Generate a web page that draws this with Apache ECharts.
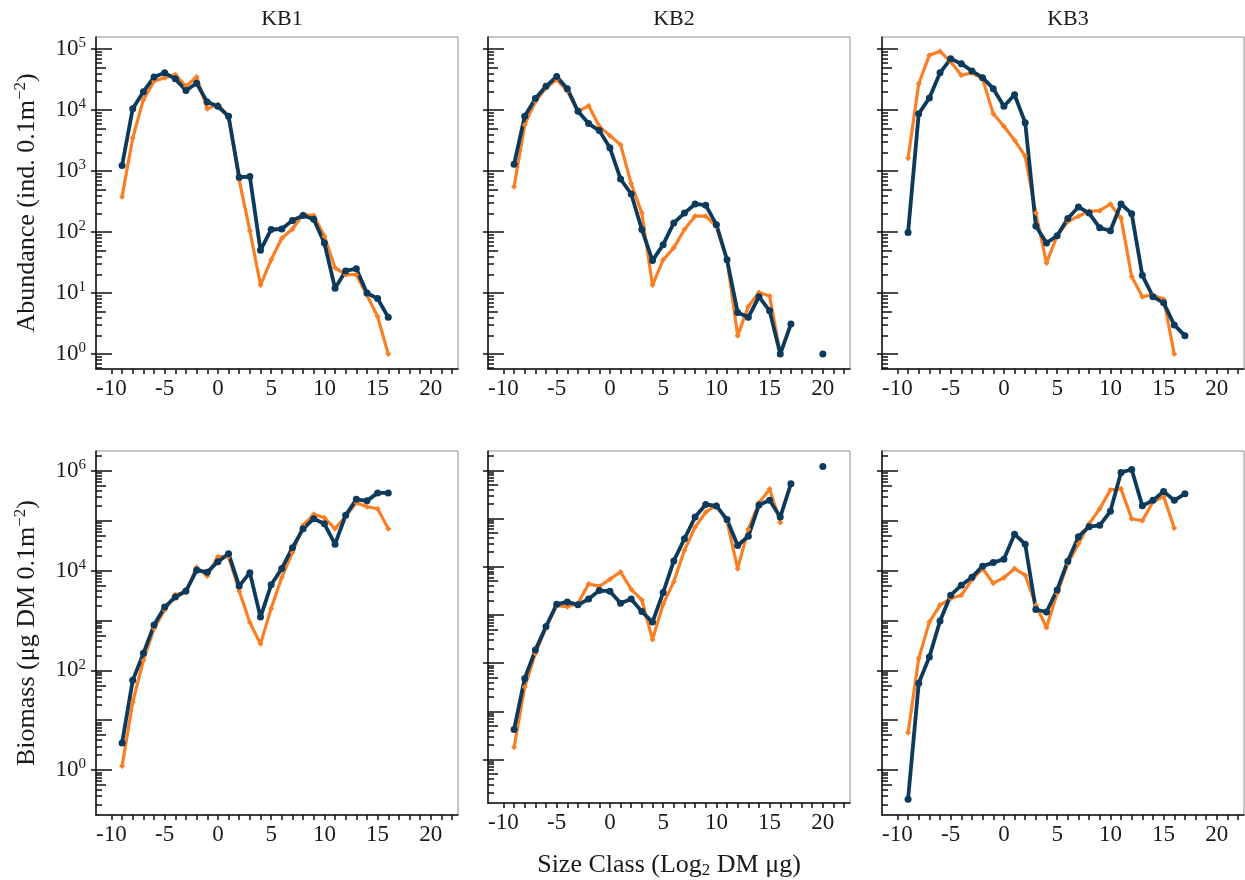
<!DOCTYPE html>
<html>
<head>
<meta charset="utf-8">
<script src="https://cdn.jsdelivr.net/npm/echarts@6/dist/echarts.min.js"></script>
<style>
  html, body { margin: 0; padding: 0; background: #fff; }
  #main { width: 1245px; height: 880px; }
</style>
</head>
<body>
<div id="main"></div>
<script>
// size classes start at -9 (log2 DM ug); null = no sample
var firstClass = -9;
var sites = ['KB1', 'KB2', 'KB3'];

// abundance (ind. 0.1m-2), orange = series 1, navy = series 2
var abundKB1_1 = [380, 3470, 14800, 29500, 33900, 38000, 24500, 34700, 10500, 12300, 7800, 710, 105, 13.5, 35, 79, 112, 195, 186, 85, 26, 20, 20, 9.3, 4.1, 1];
var abundKB1_2 = [1230, 10500, 20000, 34700, 40700, 32400, 20900, 27500, 13500, 11500, 7900, 790, 810, 50, 110, 112, 155, 186, 162, 66, 12, 23, 25, 10, 8.1, 4];
var abundKB2_1 = [550, 5750, 13800, 22900, 31600, 20400, 9500, 11700, 5400, 3800, 2700, 620, 204, 13.5, 35, 55, 110, 182, 182, 123, 35, 2, 6, 10.2, 8.9, 1];
var abundKB2_2 = [1290, 7900, 15500, 24500, 35500, 22400, 9500, 6000, 4600, 2400, 740, 420, 110, 34, 62, 141, 204, 288, 275, 132, 35, 4.8, 4, 8.7, 5.1, 1, 3.1, null, null, 1];
var abundKB3_1 = [1620, 26900, 79400, 91200, 61700, 37200, 40700, 32400, 8700, 5400, 3200, 1740, 204, 31, 87, 148, 182, 219, 224, 288, 170, 18.6, 8.7, 9.3, 7.9, 1];
var abundKB3_2 = [98, 8700, 15800, 40700, 69000, 57500, 43600, 33900, 22400, 11500, 17800, 6200, 126, 66, 87, 166, 257, 204, 117, 105, 288, 200, 19.5, 8.7, 6.9, 3, 2];

// biomass (ug DM 0.1m-2)
var bioKB1_1 = [1.2, 23, 158, 690, 1620, 3300, 3700, 11700, 7800, 19100, 19100, 3900, 910, 340, 1740, 7400, 22900, 81000, 135000, 115000, 69000, 123000, 229000, 191000, 174000, 69000];
var bioKB1_2 = [3.5, 63, 219, 810, 1860, 2950, 3900, 10200, 9300, 15100, 21900, 4900, 9100, 1170, 5200, 11000, 28800, 69000, 110000, 87000, 33900, 129000, 269000, 251000, 363000, 363000];
var bioKB2_1 = [1.8, 32, 158, 550, 1550, 1480, 1740, 4400, 3900, 5500, 7800, 3400, 2040, 310, 1660, 4900, 21900, 66000, 135000, 191000, 87000, 9100, 60000, 209000, 407000, 83000];
var bioKB2_2 = [4.2, 48, 186, 575, 1660, 1860, 1620, 2140, 3200, 3100, 1740, 2140, 1170, 710, 2900, 13200, 38000, 107000, 195000, 182000, 95000, 27500, 42700, 191000, 240000, 107000, 525000, null, null, 1200000];
var bioKB3_1 = [5.6, 174, 930, 2040, 2750, 3200, 6600, 11000, 5600, 7200, 11000, 8100, 2040, 720, 3500, 13800, 34700, 87000, 174000, 417000, 437000, 110000, 100000, 240000, 309000, 72000];
var bioKB3_2 = [0.26, 55, 186, 980, 3200, 5100, 7400, 12300, 14500, 17000, 54000, 33900, 1660, 1480, 4100, 15500, 47900, 76000, 81000, 155000, 933000, 1070000, 200000, 257000, 389000, 257000, 347000];

var xTickLabels = [-10, -5, 0, 5, 10, 15, 20];
var abundDecades = [0, 1, 2, 3, 4, 5];
var bioDecades = [0, 1, 2, 3, 4, 5, 6];
var bioLabelDecades = [0, 2, 4, 6];

var orange = '#fa7f24';
var navy = '#0c3a5c';
var font = 'Liberation Serif';
var textColor = '#1a1a1a';

var rows = [
  { series: [[abundKB1_1, abundKB1_2], [abundKB2_1, abundKB2_2], [abundKB3_1, abundKB3_2]],
    top: 37, height: 332, min: -0.246, max: 5.197, decades: abundDecades, labels: abundDecades,
    name: '{b|Abundance (ind. 0.1m}{s|−2}{b|)}' },
  { series: [[bioKB1_1, bioKB1_2], [bioKB2_1, bioKB2_2], [bioKB3_1, bioKB3_2]],
    top: 451, height: 364, min: -0.902, max: 6.4, decades: bioDecades, labels: bioLabelDecades,
    name: '{b|Biomass (μg DM 0.1m}{s|−2}{b|)}' }
];
var lefts = [96, 488, 882];
var panelW = 362;

function toPairs(arr) {
  var out = [];
  for (var i = 0; i < arr.length; i++) {
    out.push([firstClass + i, arr[i] == null ? null : Math.log10(arr[i])]);
  }
  return out;
}

function minorTicks(min, max, which) {
  var vals = [];
  for (var n = -2; n <= 7; n++) {
    for (var k = 2; k <= 9; k++) {
      if ((which === 'five') !== (k === 5)) continue;
      var v = n + Math.log10(k);
      if (v >= min && v <= max) vals.push(v);
    }
  }
  return vals;
}

var xTicks = [];
for (var t = -10; t <= 22; t++) xTicks.push(t);

var richText = {
  b: { fontFamily: font, fontSize: 23, color: textColor, lineHeight: 26 },
  s: { fontFamily: font, fontSize: 15, color: textColor, lineHeight: 14, verticalAlign: 'top' }
};

var option = {
  backgroundColor: '#fff',
  animation: false,
  title: [], grid: [], xAxis: [], yAxis: [], series: []
};

sites.forEach(function (s, c) {
  option.title.push({
    text: s, left: lefts[c] + panelW / 2, top: 3, textAlign: 'center',
    textStyle: { fontFamily: font, fontSize: 22, fontWeight: 'normal', color: textColor }
  });
});

rows.forEach(function (row, r) {
  for (var c = 0; c < 3; c++) {
    var g = option.grid.length;
    option.grid.push({
      left: lefts[c], top: row.top, width: panelW, height: row.height,
      show: true, borderColor: '#8c8c8c', borderWidth: 1, containLabel: false
    });
    var xAx = {
      type: 'value', gridIndex: g, min: -11.45, max: 22.55, position: 'bottom',
      axisLine: { onZero: false, lineStyle: { color: '#111', width: 1.5 } },
      axisTick: { inside: false, length: 5, customValues: xTicks, lineStyle: { color: '#111', width: 1.5 } },
      axisLabel: { customValues: xTickLabels, margin: 8, fontFamily: font, fontSize: 23, color: textColor },
      splitLine: { show: false }
    };
    if (r === 1 && c === 1) {
      xAx.name = '{b|Size Class (Log}{sub|2}{b| DM μg)}';
      xAx.nameLocation = 'middle';
      xAx.nameGap = 48;
      xAx.nameTextStyle = { rich: {
        b: { fontFamily: font, fontSize: 26, color: textColor, lineHeight: 28 },
        sub: { fontFamily: font, fontSize: 17, color: textColor, lineHeight: 12, verticalAlign: 'bottom' }
      } };
    }
    option.xAxis.push(xAx);

    var yBase = option.yAxis.length;
    // decade ticks inside, with labels
    var yMain = {
      type: 'value', gridIndex: g, position: 'left', min: row.min, max: row.max,
      axisLine: { show: true, onZero: false, lineStyle: { color: '#111', width: 1.5 } },
      axisTick: { inside: true, length: 16, customValues: row.decades, lineStyle: { color: '#111', width: 1.5 } },
      axisLabel: {
        show: c === 0, customValues: row.labels, margin: 10,
        formatter: function (v) { return '{b|10}{s|' + Math.round(v) + '}'; },
        rich: richText
      },
      splitLine: { show: false }
    };
    if (c === 0) {
      yMain.name = row.name;
      yMain.nameLocation = 'middle';
      yMain.nameRotate = 90;
      yMain.nameGap = 54;
      yMain.nameTextStyle = { rich: {
        b: { fontFamily: font, fontSize: 26, color: textColor, lineHeight: 30 },
        s: { fontFamily: font, fontSize: 17, color: textColor, lineHeight: 14, verticalAlign: 'top' }
      } };
    }
    option.yAxis.push(yMain);
    // labelled decades also stick out of the axis
    option.yAxis.push({
      type: 'value', gridIndex: g, position: 'left', min: row.min, max: row.max,
      axisLine: { show: false, onZero: false },
      axisTick: { inside: false, length: 5, customValues: row.labels, lineStyle: { color: '#111', width: 1.5 } },
      axisLabel: { show: false }, splitLine: { show: false }
    });
    option.yAxis.push({
      type: 'value', gridIndex: g, position: 'left', min: row.min, max: row.max,
      axisLine: { show: false, onZero: false },
      axisTick: { inside: true, length: 10, customValues: minorTicks(row.min, row.max, 'five'), lineStyle: { color: '#111', width: 1.5 } },
      axisLabel: { show: false }, splitLine: { show: false }
    });
    option.yAxis.push({
      type: 'value', gridIndex: g, position: 'left', min: row.min, max: row.max,
      axisLine: { show: false, onZero: false },
      axisTick: { inside: true, length: 6, customValues: minorTicks(row.min, row.max, 'rest'), lineStyle: { color: '#111', width: 1.5 } },
      axisLabel: { show: false }, splitLine: { show: false }
    });

    var pair = row.series[c];
    option.series.push({
      type: 'line', xAxisIndex: g, yAxisIndex: yBase, data: toPairs(pair[0]),
      symbol: 'diamond', symbolSize: 6, showSymbol: true,
      lineStyle: { color: orange, width: 3.2 }, itemStyle: { color: orange }
    });
    option.series.push({
      type: 'line', xAxisIndex: g, yAxisIndex: yBase, data: toPairs(pair[1]),
      symbol: 'circle', symbolSize: 7, showSymbol: true,
      lineStyle: { color: navy, width: 3.8 }, itemStyle: { color: navy }
    });
  }
});

var chart = echarts.init(document.getElementById('main'));
chart.setOption(option);
</script>
</body>
</html>
